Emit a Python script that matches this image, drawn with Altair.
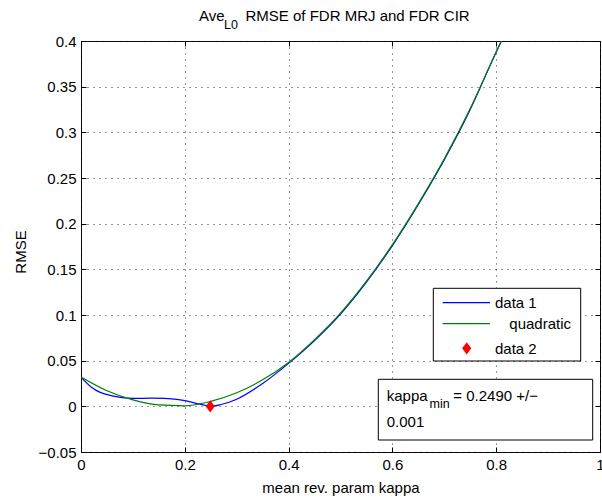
import altair as alt
import pandas as pd

# ---- data -------------------------------------------------------------
# FDR MRJ vs FDR CIR: RMSE averaged over L0, as a function of kappa
kappa_data1 = [0.0, 0.02, 0.037, 0.06, 0.08, 0.10, 0.12, 0.14, 0.16, 0.18,
               0.20, 0.22, 0.24, 0.25, 0.27, 0.30, 0.35, 0.40, 0.45, 0.50,
               0.55, 0.60, 0.65, 0.70, 0.75, 0.80, 0.81]
rmse_data1 = [0.032, 0.021, 0.0153, 0.0115, 0.0095, 0.0088, 0.0088, 0.009, 0.0088, 0.0078,
              0.0062, 0.0035, 0.001, 0.0, 0.002, 0.0078, 0.025, 0.047, 0.072, 0.101,
              0.136, 0.176, 0.221, 0.270, 0.325, 0.388, 0.40]

# quadratic fit of the same curve
kappa_quad = [0.0, 0.05, 0.10, 0.15, 0.20, 0.25, 0.30, 0.35, 0.40, 0.45,
              0.50, 0.55, 0.60, 0.65, 0.70, 0.75, 0.80, 0.81]
rmse_quad = [0.032, 0.017, 0.007, 0.0015, 0.0006, 0.0055, 0.0148, 0.029, 0.048, 0.073,
             0.102, 0.137, 0.177, 0.222, 0.271, 0.326, 0.388, 0.40]

# minimum of the fit
kappa_min = [0.249]
rmse_min = [0.0]

x_ticks = [0, 0.2, 0.4, 0.6, 0.8, 1]
y_ticks = [-0.05, 0, 0.05, 0.1, 0.15, 0.2, 0.25, 0.3, 0.35, 0.4]

legend_labels = ["data 1", "quadratic", "data 2"]
title_parts = ["Ave", "L0", "RMSE of FDR MRJ and FDR CIR"]
note_parts = ["kappa", "min", "= 0.2490 +/\u2212", "0.001"]

# ---- layout -----------------------------------------------------------
W, H = 519, 411
FONT = "Liberation Sans"
FS = 15
SUB = 12.5
BLUE, GREEN, RED = "#0000ff", "#008000", "#ff0000"
DIAMOND = "M0,-1L0.75,0L0,1L-0.75,0Z"

x_scale = alt.Scale(domain=[0, 1], nice=False, zero=False)
y_scale = alt.Scale(domain=[-0.05, 0.4], nice=False, zero=False)

df1 = pd.DataFrame({"kappa": kappa_data1, "rmse": rmse_data1})
dfq = pd.DataFrame({"kappa": kappa_quad, "rmse": rmse_quad})
dfm = pd.DataFrame({"kappa": kappa_min, "rmse": rmse_min})

# main axes: labels, titles and dotted grid
x_main = alt.Axis(orient="bottom", values=x_ticks, format="~g", grid=True,
                  gridColor="#333333", gridDash=[1, 5], gridOpacity=1, gridWidth=1,
                  ticks=False, tickSize=0, domain=False, labelFont=FONT,
                  labelFontSize=FS, labelColor="black", labelPadding=5,
                  labelFlush=False, labelOverlap=False,
                  title="mean rev. param kappa", titleFont=FONT, titleFontSize=FS,
                  titleFontWeight="normal", titleColor="black",
                  titleX=W / 2, titleY=35, titleBaseline="middle", titleAlign="center")
y_main = alt.Axis(orient="left", values=y_ticks, format="~g", grid=True,
                  gridColor="#333333", gridDash=[1, 5], gridOpacity=1, gridWidth=1,
                  ticks=False, tickSize=0, domain=False, labelFont=FONT,
                  labelFontSize=FS, labelColor="black", labelPadding=5,
                  labelOverlap=False, title="RMSE", titleFont=FONT,
                  titleFontSize=FS, titleFontWeight="normal", titleColor="black",
                  titleX=-61, titleY=H / 2 + 5, titleAngle=270,
                  titleBaseline="middle", titleAlign="center")


def tick_axis(orient, values, offset):
    # tick-only axis, moved onto the opposite edge so ticks point inwards
    return alt.Axis(orient=orient, values=values, offset=offset, labels=False,
                    ticks=True, tickSize=5, tickColor="black", tickWidth=1,
                    domain=False, grid=False, title=None)


line1 = alt.Chart(df1).mark_line(color=BLUE, strokeWidth=1.2, interpolate="monotone",
                                 clip=True).encode(
    x=alt.X("kappa:Q", scale=x_scale, axis=x_main),
    y=alt.Y("rmse:Q", scale=y_scale, axis=y_main),
)

lineq = alt.Chart(dfq).mark_line(color=GREEN, strokeWidth=1.2, interpolate="monotone",
                                 clip=True).encode(
    x=alt.X("kappa:Q", scale=x_scale, axis=tick_axis("top", x_ticks, -H)),
    y=alt.Y("rmse:Q", scale=y_scale, axis=tick_axis("right", y_ticks, -W)),
)

pt = alt.Chart(dfm).mark_point(shape=DIAMOND, filled=True, color=RED, size=150,
                               opacity=1).encode(
    x=alt.X("kappa:Q", scale=x_scale, axis=tick_axis("bottom", x_ticks, -H)),
    y=alt.Y("rmse:Q", scale=y_scale, axis=tick_axis("left", y_ticks, -W)),
)


def text_at(label, x, y, size=FS, align="left", baseline="alphabetic"):
    return alt.Chart(pd.DataFrame({"t": [label]})).mark_text(
        font=FONT, fontSize=size, color="black", align=align, baseline=baseline
    ).encode(text="t:N", x=alt.value(x), y=alt.value(y))


# title with subscript
title = (text_at(title_parts[0], 118, -20)
         + text_at(title_parts[1], 143, -12.5, size=SUB)
         + text_at(title_parts[2], 164.5, -20))

# legend box
legend_box = alt.Chart(pd.DataFrame({"t": [0]})).mark_rect(
    fill="white", stroke="black", strokeWidth=1
).encode(x=alt.value(352.3), x2=alt.value(499.7), y=alt.value(247.3), y2=alt.value(320))
leg_blue = alt.Chart(pd.DataFrame({"t": [0]})).mark_rule(color=BLUE, strokeWidth=1.2).encode(
    x=alt.value(361.7), x2=alt.value(409), y=alt.value(261.7))
leg_green = alt.Chart(pd.DataFrame({"t": [0]})).mark_rule(color=GREEN, strokeWidth=1.2).encode(
    x=alt.value(361.7), x2=alt.value(409), y=alt.value(282.7))
leg_pt = alt.Chart(pd.DataFrame({"t": [0]})).mark_point(
    shape=DIAMOND, filled=True, color=RED, size=150, opacity=1
).encode(x=alt.value(385.7), y=alt.value(307.3))
leg_text = (text_at(legend_labels[0], 414, 262, baseline="middle")
            + text_at(legend_labels[1], 428.3, 283, baseline="middle")
            + text_at(legend_labels[2], 414, 307.5, baseline="middle"))

# annotation box with the fitted minimum
note_box = alt.Chart(pd.DataFrame({"t": [0]})).mark_rect(
    fill="white", stroke="black", strokeWidth=1
).encode(x=alt.value(297.3), x2=alt.value(511.7), y=alt.value(338.3), y2=alt.value(399))
note_text = (text_at(note_parts[0], 305.7, 359.7)
             + text_at(note_parts[1], 348.5, 367, size=SUB)
             + text_at(note_parts[2], 372.3, 359.7)
             + text_at(note_parts[3], 305.7, 385.7))

chart = alt.layer(
    line1, lineq, pt,
    title,
    legend_box, leg_blue, leg_green, leg_pt, leg_text,
    note_box, note_text,
).resolve_axis(x="independent", y="independent").properties(
    width=W, height=H,
    autosize=alt.AutoSizeParams(type="none"),
    padding={"left": 81, "top": 41, "right": 2, "bottom": 47},
    background="white",
).configure_view(stroke="black", strokeWidth=1)

chart.save("out.html", embed_options={"renderer": "svg", "actions": False})
